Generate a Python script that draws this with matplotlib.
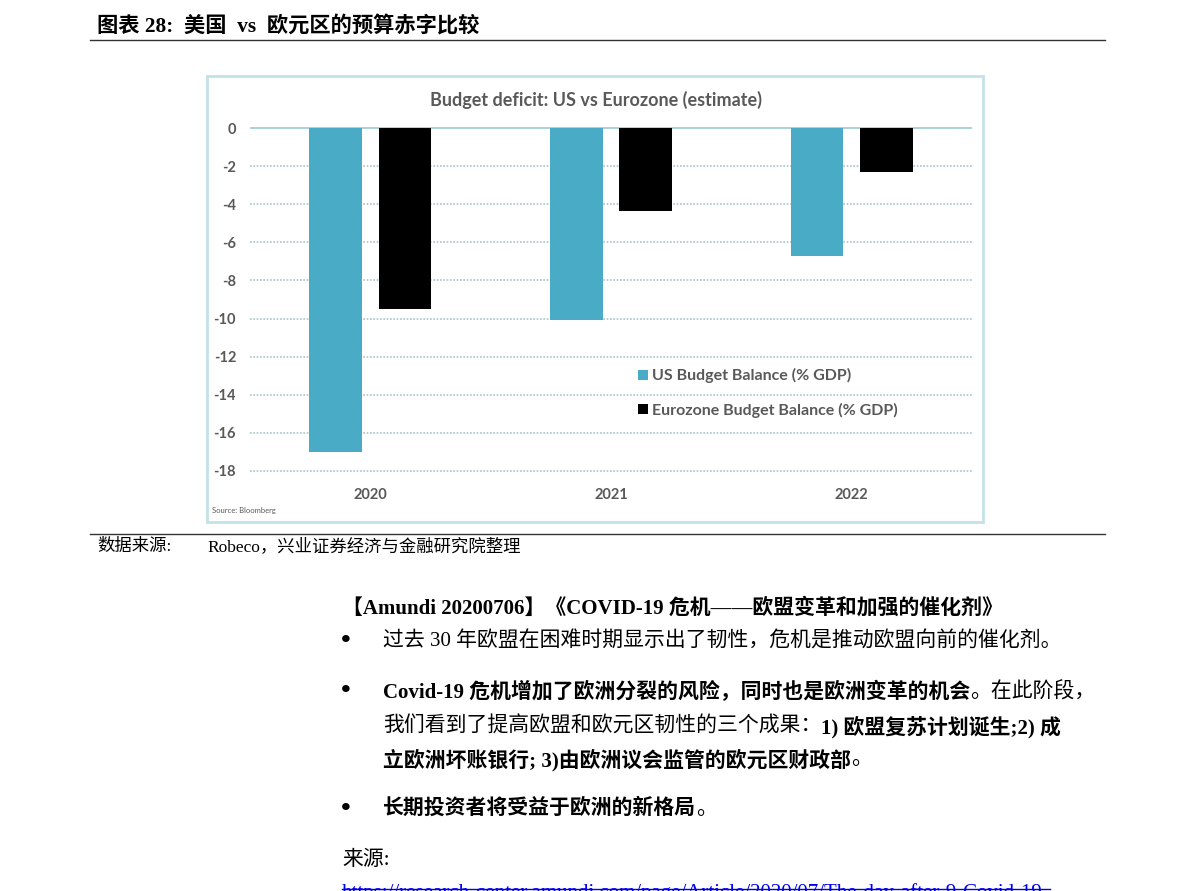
import matplotlib.pyplot as plt
from matplotlib.patches import Rectangle
from matplotlib.lines import Line2D

# ---------------- DATA ----------------
years = ["2020", "2021", "2022"]
us_balance = [-17.0, -10.1, -6.7]
ez_balance = [-9.5, -4.35, -2.3]
y_ticks = [0, -2, -4, -6, -8, -10, -12, -14, -16, -18]
series_names = ["US Budget Balance (% GDP)", "Eurozone Budget Balance (% GDP)"]

W, H = 1191, 891
PAGE_FONT = ["Liberation Serif", "Noto Sans CJK SC"]
CHART_FONT = ["Lato", "DejaVu Sans"]
GREY = "#595959"
US_COLOR = "#4aabc7"


def fx(x):
    return x / W


def fy(y):
    return 1 - y / H


fig = plt.figure(figsize=(W / 100, H / 100), dpi=100)
renderer = fig.canvas.get_renderer()


def runs(x, y, parts, size, color="black"):
    # write text pieces one after another, some bold, some not
    for txt, bold in parts:
        t = fig.text(fx(x), fy(y), txt, fontsize=size, family=PAGE_FONT,
                     fontweight="bold" if bold else "normal",
                     ha="left", va="center", color=color)
        x += t.get_window_extent(renderer=renderer).width
    return x


# ---------------- PAGE HEADER ----------------
runs(97, 27, [("图表 28:  美国  vs  欧元区的预算赤字比较", True)], 15.3)
fig.add_artist(Line2D([fx(90), fx(1105)], [fy(40), fy(40)], color="#333333", lw=1.0))
fig.add_artist(Line2D([fx(90), fx(1105)], [fy(534), fy(534)], color="#333333", lw=1.0))

# ---------------- CHART BOX ----------------
box = Rectangle((fx(207), fy(522)), (983 - 207) / W, (522 - 76) / H,
                transform=fig.transFigure, facecolor="white",
                edgecolor="#c3e2e7", lw=2, zorder=-1)
fig.add_artist(box)

ax = fig.add_axes([fx(250), fy(482.4), (972 - 250) / W, (482.4 - 122.3) / H])
x = list(range(len(years)))
bw = 0.22
off = 0.144
ax.bar([i - off for i in x], us_balance, width=bw, color=US_COLOR, label=series_names[0], zorder=3)
ax.bar([i + off for i in x], ez_balance, width=bw, color="black", label=series_names[1], zorder=3)

for v in y_ticks[1:]:
    ax.axhline(v, color="#a9c3cc", lw=1.2, ls=(0, (1, 1)), zorder=1)
ax.axhline(0, color="#9cc9d3", lw=1.2, zorder=2)

ax.set_xlim(-0.5, 2.5)
ax.set_ylim(-18.6, 0.3)
ax.set_yticks(y_ticks)
ax.set_yticklabels([str(v) for v in y_ticks], fontsize=10.5, fontweight="bold",
                   color=GREY, family=CHART_FONT)
ax.set_xticks(x)
ax.set_xticklabels(years, fontsize=10.5, fontweight="bold", color=GREY, family=CHART_FONT)
ax.tick_params(length=0, axis="y", pad=10)
ax.tick_params(length=0, axis="x", pad=4)
for s in ax.spines.values():
    s.set_visible(False)
ax.patch.set_alpha(0)

leg = ax.legend(loc="upper left", bbox_to_anchor=((632 - 250) / 722, (482.4 - 362) / 360.1),
                frameon=False, handlelength=0.6, handleheight=0.6, handletextpad=0.25,
                labelspacing=1.2, borderaxespad=0,
                prop={"family": CHART_FONT, "weight": "bold", "size": 11.5})
for t in leg.get_texts():
    t.set_color(GREY)

fig.text(fx(596), fy(100), "Budget deficit: US vs Eurozone (estimate)", ha="center", va="center",
         fontsize=13, fontweight="bold", color=GREY, family=CHART_FONT)
fig.text(fx(212), fy(511), "Source: Bloomberg", ha="left", va="center",
         fontsize=5.5, color=GREY, family=CHART_FONT)

# ---------------- SOURCE LINE ----------------
runs(97, 547, [("数据来源:", False)], 12.5)
runs(207, 547, [("Robeco，兴业证券经济与金融研究院整理", False)], 12.5)

# ---------------- TEXT BELOW ----------------
runs(342, 608, [("【Amundi 20200706】《COVID-19 危机——欧盟变革和加强的催化剂》", True)], 15)
for by in [641, 692, 809]:
    fig.text(fx(346), fy(by), "•", fontsize=20, fontweight="bold", ha="center", va="center",
             family=PAGE_FONT)
runs(383, 641, [("过去 30 年欧盟在困难时期显示出了韧性，危机是推动欧盟向前的催化剂。", False)], 15)
runs(383, 692, [("Covid-19 危机增加了欧洲分裂的风险，同时也是欧洲变革的机会", True),
                ("。在此阶段，", False)], 15)
runs(383, 727, [("我们看到了提高欧盟和欧元区韧性的三个成果：", False),
                ("1) 欧盟复苏计划诞生;2) 成", True)], 15)
runs(383, 760, [("立欧洲坏账银行; 3)由欧洲议会监管的欧元区财政部", True), ("。", False)], 15)
runs(383, 809, [("长期投资者将受益于欧洲的新格局", True), ("。", False)], 15)
runs(342, 860, [("来源:", False)], 15)
fig.text(fx(342), fy(893), "https://research-center.amundi.com/page/Article/2020/07/The-day-after-9-Covid-19",
         fontsize=15, family=PAGE_FONT, color="#0000ee", ha="left", va="center")
fig.add_artist(Line2D([fx(342), fx(1050)], [fy(889), fy(889)], color="#0000ee", lw=1))

fig.savefig("out.png", dpi=100)
